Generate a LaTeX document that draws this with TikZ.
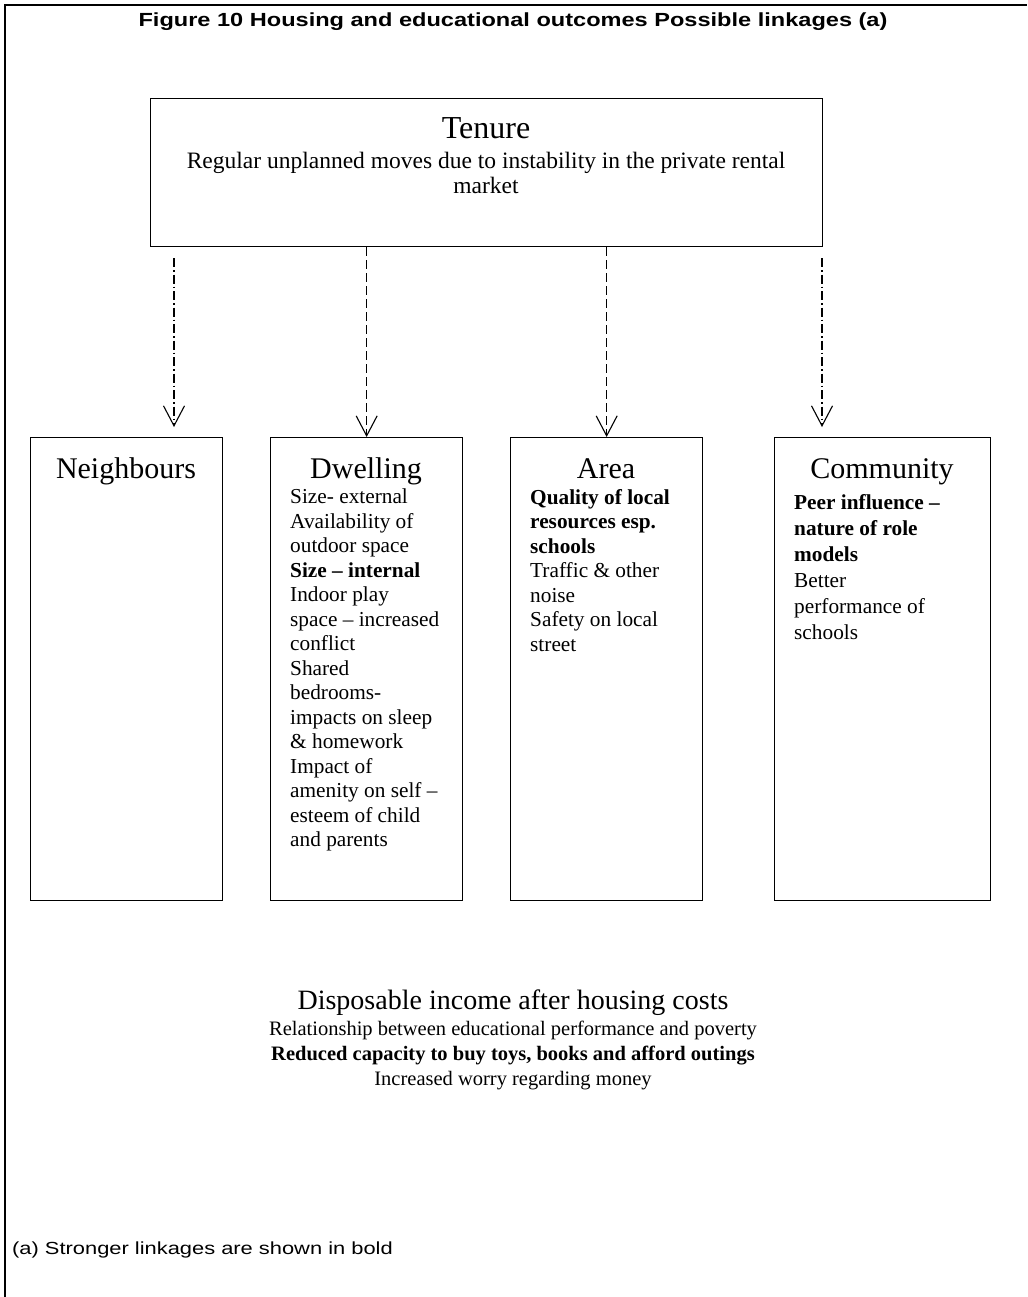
\documentclass[tikz,border=0pt]{standalone}
\usepackage{fontspec}
\setmainfont{Liberation Serif}
\newfontfamily\arialwide[FakeStretch=1.24]{Liberation Sans}
\newfontfamily\arialnote[FakeStretch=1.25]{Liberation Sans}
\usetikzlibrary{arrows.meta,calc}
\tikzset{
  framebox/.style={draw,line width=1.3pt,anchor=north west,minimum height=463pt,inner sep=0pt},
  head/.style={font=\fontsize{30}{33}\selectfont,anchor=base},
  body/.style={font=\fontsize{21.3}{24.5}\selectfont,align=left,anchor=north west,inner sep=0pt},
  link/.style={line width=1.1pt,-{Straight Barb[length=20pt,width=21pt,line width=1.1pt]}},
  dashdot/.style={dash pattern=on 9pt off 3pt on 1.5pt off 3pt},
  dashlong/.style={dash pattern=on 9pt off 4pt},
}
\begin{document}
\begin{tikzpicture}[x=1pt,y=-1pt]
\useasboundingbox (0,0) rectangle (1027,1297);
\fill[white] (0,0) rectangle (1027,1297);
% outer frame (top and left edges)
\draw[line width=1.6pt] (5,1297) -- (5,5) -- (1027,5);
% title
\node[font=\arialwide\bfseries\fontsize{19}{21}\selectfont,anchor=base] (title) at (513,27) {Figure 10 Housing and educational outcomes Possible linkages (a)};
% Tenure box
\node[draw,line width=1.3pt,anchor=north west,minimum width=672pt,minimum height=148pt,inner sep=0pt] (tenure) at (150,98) {};
\node[font=\fontsize{32}{35}\selectfont,anchor=base] (tenhead) at (486,139) {Tenure};
\node[font=\fontsize{23.5}{25}\selectfont,align=center,anchor=north,inner sep=0pt] (tentext) at (486,152) {Regular unplanned moves due to instability in the private rental\\market};
% four boxes
\node[framebox,minimum width=192pt] (neigh) at (30,437) {};
\node[framebox,minimum width=192pt] (dwell) at (270,437) {};
\node[framebox,minimum width=192pt] (area) at (510,437) {};
\node[framebox,minimum width=216pt] (comm) at (774,437) {};
% headings
\node[head] (neighhead) at (126,478) {Neighbours};
\node[head] (dwellhead) at (366,478) {Dwelling};
\node[head] (areahead) at (606,478) {Area};
\node[head] (commhead) at (882,478) {Community};
% box texts
\node[body] (dwelltext) at (290,489) {Size- external\\Availability of\\outdoor space\\\textbf{Size -- internal}\\Indoor play\\space -- increased\\conflict\\Shared\\bedrooms-\\impacts on sleep\\\& homework\\Impact of\\amenity on self --\\esteem of child\\and parents};
\node[body] (areatext) at (530,489) {\textbf{Quality of local}\\\textbf{resources esp.}\\\textbf{schools}\\Traffic \& other\\noise\\Safety on local\\street};
\node[body,font=\fontsize{21.3}{26}\selectfont] (commtext) at (794,494) {\textbf{Peer influence --}\\\textbf{nature of role}\\\textbf{models}\\Better\\performance of\\schools};
% connectors
\coordinate (s1) at (174,258);
\coordinate (s4) at (822,258);
\draw[link,dashdot,shorten >=10pt] (s1) -- (s1 |- neigh.north);
\draw[link,dashlong] (dwell.north |- tenure.south) -- (dwell.north);
\draw[link,dashlong] (area.north |- tenure.south) -- (area.north);
\draw[link,dashdot,shorten >=10pt] (s4) -- (s4 |- comm.north);
% income
\node[font=\fontsize{28}{31}\selectfont,anchor=base] (income) at (513,1009) {Disposable income after housing costs};
\node[font=\fontsize{20.5}{25}\selectfont,align=center,anchor=north,inner sep=0pt] (incometext) at (513,1021) {Relationship between educational performance and poverty\\\textbf{Reduced capacity to buy toys, books and afford outings}\\Increased worry regarding money};
% footnote
\node[font=\arialnote\fontsize{17.5}{20}\selectfont,anchor=base west,inner sep=0pt] (note) at (12,1254) {(a) Stronger linkages are shown in bold};
\end{tikzpicture}
\end{document}
